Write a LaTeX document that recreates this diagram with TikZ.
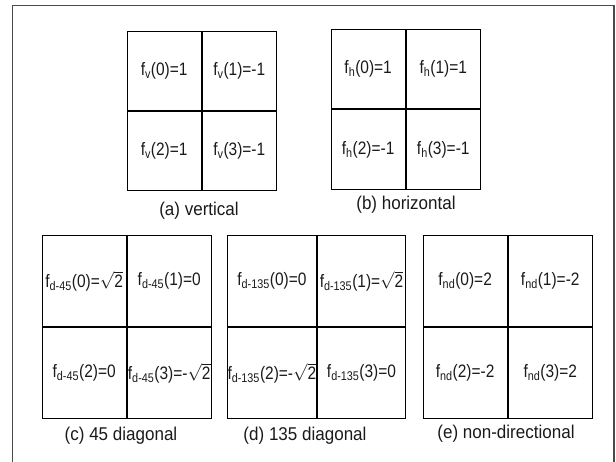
\documentclass[tikz,border=0pt]{standalone}
\usepackage{fontspec}
\setmainfont{Liberation Sans}
\newfontfamily\cellfont[FakeStretch=0.86]{Liberation Sans}
\newfontfamily\capfont[FakeStretch=0.92]{Liberation Sans}
\usetikzlibrary{positioning}
\definecolor{framegray}{HTML}{4A4A4A}
\definecolor{inkblack}{HTML}{1A1A1A}
\tikzset{
  cell/.style   ={draw=black, line width=1.1pt, inner sep=0pt, text=inkblack,
                  font=\cellfont\fontsize{18}{20}\selectfont},
  caption/.style={text=inkblack, inner sep=0pt, font=\capfont\fontsize{18.5}{21}\selectfont},
  frame/.style  ={draw=framegray, line width=1.1pt},
}
\newcommand{\rtwo}{\ensuremath{\sqrt{\mbox{2}}}}
% #1 name, (#2,#3) centre of the cross, #4 x #5 cell size, #6..#9 cell texts
\newcommand{\quadpanel}[9]{%
  \node[cell, minimum width=#4pt, minimum height=#5pt, anchor=south east] (#1-0) at (#2,#3) {#6};
  \node[cell, minimum width=#4pt, minimum height=#5pt, anchor=south west] (#1-1) at (#2,#3) {#7};
  \node[cell, minimum width=#4pt, minimum height=#5pt, anchor=north east] (#1-2) at (#2,#3) {#8};
  \node[cell, minimum width=#4pt, minimum height=#5pt, anchor=north west] (#1-3) at (#2,#3) {#9};}

\begin{document}
\begin{tikzpicture}[x=1pt,y=-1pt]
  \useasboundingbox (0,0) rectangle (616,461);
  \draw[frame] (12.7,462) -- (12.7,5.7) -- (614,5.7) -- (614,462);
  % top row
  \quadpanel{vert}{201.7}{111}{74}{79}%
    {f\textsubscript{v}(0)=1}{f\textsubscript{v}(1)=-1}%
    {f\textsubscript{v}(2)=1}{f\textsubscript{v}(3)=-1}
  \quadpanel{hori}{405.7}{109.3}{74}{79.5}%
    {f\textsubscript{h}(0)=1}{f\textsubscript{h}(1)=1}%
    {f\textsubscript{h}(2)=-1}{f\textsubscript{h}(3)=-1}
  \node[caption] (cap-a) at (199,211) {(a) vertical};
  \node[caption] (cap-b) at (406,205) {(b) horizontal};
  % bottom row
  \quadpanel{diag45}{126.7}{327}{84}{91}%
    {f\textsubscript{d-45}(0)=\rtwo}{f\textsubscript{d-45}(1)=0}%
    {f\textsubscript{d-45}(2)=0}{f\textsubscript{d-45}(3)=-\rtwo}
  \quadpanel{diag135}{316.7}{327}{88.5}{91}%
    {f\textsubscript{d-135}(0)=0}{f\textsubscript{d-135}(1)=\rtwo}%
    {f\textsubscript{d-135}(2)=-\rtwo}{f\textsubscript{d-135}(3)=0}
  \quadpanel{nondir}{507.7}{327}{84}{91}%
    {f\textsubscript{nd}(0)=2}{f\textsubscript{nd}(1)=-2}%
    {f\textsubscript{nd}(2)=-2}{f\textsubscript{nd}(3)=2}
  \node[caption] (cap-c) at (121,436) {(c) 45 diagonal};
  \node[caption] (cap-d) at (305,436) {(d) 135 diagonal};
  \node[caption] (cap-e) at (506,434) {(e) non-directional};
\end{tikzpicture}
\end{document}
